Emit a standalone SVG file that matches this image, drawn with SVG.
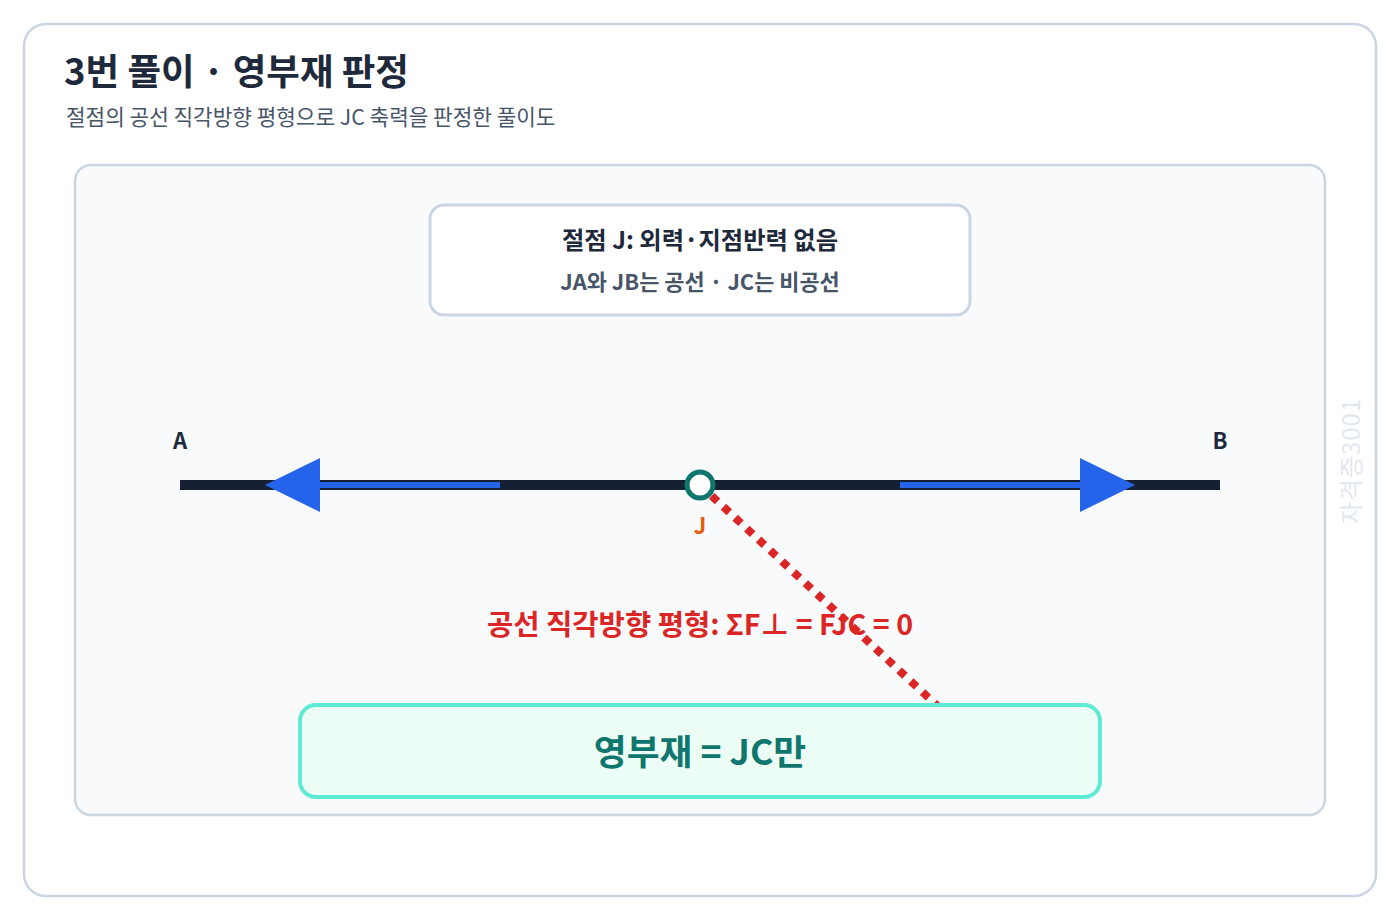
<svg xmlns="http://www.w3.org/2000/svg" width="1400" height="920" viewBox="0 0 1400 920">
<style>
text{font-family:"Noto Sans CJK KR","Noto Sans",sans-serif}
.t{font-size:36.5px;font-weight:700;fill:#1e293b}
.s{font-size:21.3px;fill:#475569}
.lbl{font-size:22px;font-weight:700;fill:#1e293b;text-anchor:middle}
</style>
<rect x="0" y="0" width="1400" height="920" fill="#ffffff"/>
<rect x="24" y="24" width="1352" height="872" rx="22" fill="#ffffff" stroke="#cbd5e1" stroke-width="2.5"/>
<text class="t" x="64" y="85">3번 풀이 · 영부재 판정</text>
<text class="s" x="66" y="125">절점의 공선 직각방향 평형으로 JC 축력을 판정한 풀이도</text>
<rect x="75" y="165" width="1250" height="650" rx="16" fill="#f8fafc" stroke="#cbd5e1" stroke-width="2.5"/>
<text x="1360" y="461" transform="rotate(-90 1360 461)" text-anchor="middle" font-size="24" fill="#e2e8f0" letter-spacing="1">자격증3001</text>
<g id="info">
<rect x="430" y="205" width="540" height="110" rx="14" fill="#ffffff" stroke="#cbd5e1" stroke-width="3"/>
<text x="700" y="249" text-anchor="middle" font-size="24.3" font-weight="700" fill="#1e293b">절점 J: 외력·지점반력 없음</text>
<text x="700" y="290" text-anchor="middle" font-size="21.9" font-weight="700" fill="#475569">JA와 JB는 공선 · JC는 비공선</text>
</g>
<g id="member-AB">
<line x1="180" y1="485" x2="1220" y2="485" stroke="#162032" stroke-width="10"/>
</g>
<g id="labels">
<text class="lbl" x="180" y="449">A</text>
<text class="lbl" x="1220" y="449">B</text>
</g>
<text id="eq" x="700" y="635" text-anchor="middle" font-size="28.6" font-weight="700" fill="#dc2626">공선 직각방향 평형: ΣF⊥ = FJC = 0</text>
<g id="connectors">
<line x1="500" y1="485" x2="318" y2="485" stroke="#2563eb" stroke-width="6"/>
<polygon points="265,485 320,458 320,512" fill="#2563eb"/>
<line x1="900" y1="485" x2="1082" y2="485" stroke="#2563eb" stroke-width="6"/>
<polygon points="1135,485 1080,458 1080,512" fill="#2563eb"/>
<line x1="700" y1="485" x2="960" y2="727" stroke="#dc2626" stroke-width="8" stroke-dasharray="8 8"/>
</g>
<g id="joint-J">
<circle cx="700" cy="485" r="13" fill="#ffffff" stroke="#0f766e" stroke-width="5"/>
<text x="700" y="534" text-anchor="middle" font-size="22" font-weight="700" fill="#ea580c">J</text>
</g>
<g id="result">
<rect x="300" y="705" width="800" height="92" rx="16" fill="#ecfdf5" stroke="#5eead4" stroke-width="4"/>
<text x="700" y="765" text-anchor="middle" font-size="35.7" font-weight="700" fill="#0f766e">영부재 = JC만</text>
</g>
</svg>
